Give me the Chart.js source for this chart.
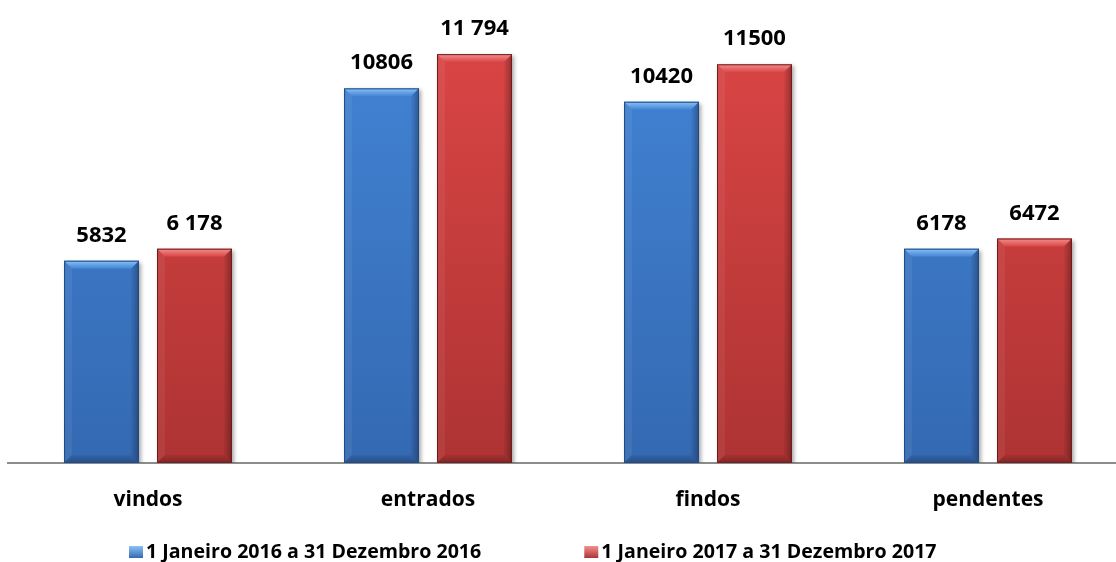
<!DOCTYPE html>
<html>
<head>
<meta charset="utf-8">
<script src="https://cdn.jsdelivr.net/npm/chart.js@4.4.1/dist/chart.umd.min.js"></script>
<style>
  html, body { margin: 0; padding: 0; background: #fff; overflow: hidden; }
  #wrap { position: absolute; left: 0; top: 0; width: 1136px; height: 562px; }
</style>
</head>
<body>
<div id="wrap"><canvas id="processos" width="1136" height="562"></canvas></div>
<script>
// dados
const categorias = ['vindos', 'entrados', 'findos', 'pendentes'];
const serie2016 = [5832, 10806, 10420, 6178];
const serie2017 = [6178, 11794, 11500, 6472];
const rotulos2016 = ['5832', '10806', '10420', '6178'];
const rotulos2017 = ['6 178', '11 794', '11500', '6472'];
const legenda = ['1 Janeiro 2016 a 31 Dezembro 2016', '1 Janeiro 2017 a 31 Dezembro 2017'];

const FONTE = '"Open Sans", "DejaVu Sans", sans-serif';

const cores = [
  { topo: '#4283d4', base: '#3469b2', luz: '#8cc2f6', sombra: '#1f4a85' },
  { topo: '#da4545', base: '#ae3333', luz: '#f29090', sombra: '#6e1c1c' },
];

function gradiente(i) {
  return (c) => {
    const area = c.chart.chartArea;
    if (!area) return cores[i].topo;
    const g = c.chart.ctx.createLinearGradient(0, area.top, 0, area.bottom);
    g.addColorStop(0, cores[i].topo);
    g.addColorStop(1, cores[i].base);
    return g;
  };
}

function poly(ctx, pts, fill) {
  ctx.beginPath();
  ctx.moveTo(pts[0][0], pts[0][1]);
  for (let k = 1; k < pts.length; k++) ctx.lineTo(pts[k][0], pts[k][1]);
  ctx.closePath();
  ctx.fillStyle = fill;
  ctx.fill();
}

// sombra por baixo das barras + efeito de bisel por cima
const bisel = {
  id: 'bisel',
  beforeDatasetsDraw(chart) {
    const ctx = chart.ctx;
    ctx.save();
    ctx.shadowColor = 'rgba(0,0,0,0.35)';
    ctx.shadowBlur = 4;
    ctx.shadowOffsetX = 2;
    ctx.shadowOffsetY = 2;
  },
  afterDatasetsDraw(chart) {
    const ctx = chart.ctx;
    ctx.restore();
    chart.data.datasets.forEach((ds, i) => {
      const c = cores[i];
      chart.getDatasetMeta(i).data.forEach(bar => {
        const { x, y, base, width } = bar.getProps(['x', 'y', 'base', 'width'], true);
        const l = x - width / 2, r = x + width / 2, t = y, b = base;
        const s = 8;
        ctx.save();
        let g = ctx.createLinearGradient(0, t, 0, t + s);
        g.addColorStop(0, c.luz);
        g.addColorStop(1, c.topo);
        poly(ctx, [[l, t], [r, t], [r - s, t + s], [l + s, t + s]], g);
        poly(ctx, [[l, t], [l + s, t + s], [l + s, b - s], [l, b]], 'rgba(255,255,255,0.06)');
        g = ctx.createLinearGradient(r - s, 0, r, 0);
        g.addColorStop(0, 'rgba(0,0,0,0.03)');
        g.addColorStop(1, 'rgba(0,0,0,0.3)');
        poly(ctx, [[r, t], [r, b], [r - s, b - s], [r - s, t + s]], g);
        g = ctx.createLinearGradient(0, b - s, 0, b);
        g.addColorStop(0, 'rgba(0,0,0,0.05)');
        g.addColorStop(1, 'rgba(0,0,0,0.25)');
        poly(ctx, [[l, b], [l + s, b - s], [r - s, b - s], [r, b]], g);
        ctx.strokeStyle = c.sombra;
        ctx.lineWidth = 1;
        ctx.strokeRect(l + 0.5, t + 0.5, width - 1, b - t - 1);
        ctx.restore();
      });
    });
  }
};

// valores por cima das barras
const valores = {
  id: 'valores',
  afterDatasetsDraw(chart) {
    const ctx = chart.ctx;
    ctx.save();
    ctx.font = 'bold 22px ' + FONTE;
    ctx.fillStyle = '#000';
    ctx.textAlign = 'center';
    ctx.textBaseline = 'alphabetic';
    chart.data.datasets.forEach((ds, i) => {
      chart.getDatasetMeta(i).data.forEach((bar, j) => {
        ctx.fillText(ds.rotulos[j], bar.x, bar.y - 19);
      });
    });
    ctx.restore();
  }
};

// legenda em baixo
const legendaPropria = {
  id: 'legendaPropria',
  afterDraw(chart) {
    const ctx = chart.ctx;
    ctx.save();
    ctx.font = 'bold 19.6px ' + FONTE;
    ctx.textBaseline = 'alphabetic';
    const yTexto = 558, caixa = 14;
    let x = 129;
    chart.data.datasets.forEach((ds, i) => {
      const g = ctx.createLinearGradient(0, yTexto - 12, 0, yTexto);
      g.addColorStop(0, cores[i].luz);
      g.addColorStop(1, cores[i].base);
      ctx.fillStyle = g;
      ctx.fillRect(x, yTexto - 12, caixa, 12);
      ctx.fillStyle = '#000';
      ctx.fillText(ds.label, x + caixa + 3, yTexto);
      x += caixa + 3 + ctx.measureText(ds.label).width + 103;
    });
    ctx.restore();
  }
};

new Chart(document.getElementById('processos'), {
  type: 'bar',
  data: {
    labels: categorias,
    datasets: [
      { label: legenda[0], data: serie2016, rotulos: rotulos2016, backgroundColor: gradiente(0) },
      { label: legenda[1], data: serie2017, rotulos: rotulos2017, backgroundColor: gradiente(1) },
    ],
  },
  options: {
    responsive: false,
    animation: false,
    layout: { padding: { left: 8, right: 8, top: 47, bottom: 24 } },
    datasets: { bar: { categoryPercentage: 0.664, barPercentage: 0.806 } },
    plugins: {
      legend: { display: false },
      tooltip: { enabled: false },
    },
    scales: {
      x: {
        grid: { display: false, drawTicks: false },
        border: { display: true, color: '#8c8c8c', width: 2 },
        ticks: { color: '#000', padding: 25, font: { family: FONTE, size: 21, weight: 'bold' } },
      },
      y: { display: false, min: 0, max: 12000 },
    },
  },
  plugins: [bisel, valores, legendaPropria],
});
</script>
</body>
</html>
